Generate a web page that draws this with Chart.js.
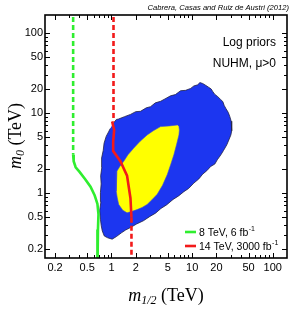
<!DOCTYPE html>
<html>
<head>
<meta charset="utf-8">
<script src="https://cdn.jsdelivr.net/npm/chart.js@4.4.0/dist/chart.umd.min.js"></script>
<style>
  html, body { margin: 0; padding: 0; background: #fff; }
  canvas { display: block; }
</style>
</head>
<body>
<canvas id="c" width="291" height="313"></canvas>
<script>
// m1/2 (TeV), m0 (TeV) pairs
const region95 = [
  [1.05, 7.4], [1.15, 8.3], [1.22, 8.4], [1.45, 9.0], [1.72, 9.6], [2.0, 10.4], [2.29, 10.5], [2.7, 11.6],
  [3.05, 12.0], [3.5, 13.4], [4.06, 14.0], [4.6, 15.0], [5.4, 16.4], [6.2, 17.0], [7.2, 19.0],
  [8.3, 19.2], [9.6, 20.3], [10.5, 21.8], [11.7, 22.5], [12.5, 24.0], [13.5, 23.4], [14.7, 22.2], [16.0, 21.0],
  [17.2, 20.0], [18.0, 18.6], [19.0, 17.2], [20.8, 16.0], [22.5, 14.8], [24.0, 13.9], [25.0, 12.4], [26.2, 11.4],
  [28.0, 10.2], [29.3, 9.05], [30.5, 7.9], [31.1, 6.8], [30.8, 6.0], [30.2, 5.3], [28.5, 4.6],
  [26.9, 4.0], [24.5, 3.4], [22.7, 3.0], [20.5, 2.6], [19.1, 2.3], [17.0, 2.15], [15.2, 1.9],
  [13.5, 1.72], [12.1, 1.5], [10.5, 1.33], [9.05, 1.14], [7.9, 1.04], [6.8, 0.92], [5.8, 0.83],
  [4.82, 0.71], [4.1, 0.64], [3.52, 0.56], [3.0, 0.51], [2.49, 0.45], [2.05, 0.41], [1.72, 0.37],
  [1.5, 0.345], [1.33, 0.318], [1.15, 0.285], [1.02, 0.265], [0.9, 0.275], [0.815, 0.29],
  [0.77, 0.335], [0.747, 0.39], [0.73, 0.47], [0.715, 0.6], [0.74, 0.78], [0.73, 1.01],
  [0.745, 1.3], [0.735, 1.64], [0.76, 2.1], [0.755, 2.74], [0.79, 3.4], [0.81, 4.2],
  [0.86, 5.1], [0.92, 5.8], [0.966, 6.4]
];
const region68 = [
  [6.55, 7.07], [5.2, 6.9], [4.06, 6.76], [3.3, 6.0], [2.77, 5.32], [2.25, 4.4], [1.89, 3.64],
  [1.6, 3.0], [1.42, 2.49], [1.27, 2.15], [1.17, 1.88], [1.14, 1.45], [1.15, 1.06], [1.18, 0.87],
  [1.23, 0.72], [1.38, 0.61], [1.56, 0.565], [1.8, 0.59], [2.08, 0.62], [2.4, 0.66], [2.77, 0.72],
  [3.2, 0.83], [3.69, 0.964], [4.3, 1.25], [4.92, 1.7], [5.45, 2.3], [5.94, 3.01], [6.4, 4.0],
  [6.86, 5.32], [6.95, 6.1], [6.86, 6.76]
];
const lhc8Dashed = [[0.335, 200], [0.335, 3.0]];
const lhc8Solid = [
  [0.335, 3.0], [0.34, 2.5], [0.36, 2.1], [0.40, 1.85], [0.47, 1.5], [0.55, 1.2], [0.62, 0.93],
  [0.67, 0.73], [0.69, 0.54], [0.68, 0.35], [0.67, 0.1]
];
const lhc14DashedTop = [[1.06, 200], [1.06, 7.85]];
const lhc14Solid = [
  [1.02, 7.85], [1.08, 6.1], [1.05, 4.4], [1.05, 3.34], [1.29, 2.5], [1.56, 1.65], [1.72, 0.86],
  [1.77, 0.49]
];
const lhc14DashedBottom = [[1.77, 0.49], [1.77, 0.1]];

const tickLabels = [0.2, 0.5, 1, 2, 5, 10, 20, 50, 100];
const tickMarks = [0.2, 0.3, 0.4, 0.5, 0.6, 0.7, 0.8, 0.9, 1, 2, 3, 4, 5, 6, 7, 8, 9,
  10, 20, 30, 40, 50, 60, 70, 80, 90, 100];
const legendItems = [
  { text: '8 TeV, 6 fb', color: '#2fee2f' },
  { text: '14 TeV, 3000 fb', color: '#f21a1a' }
];

const pts = arr => arr.map(([x, y]) => ({ x, y }));
const lineSet = (arr, color, dash, order) => ({
  data: pts(arr), showLine: true, fill: false, borderColor: color, borderWidth: 2.6,
  borderDash: dash, pointRadius: 0, tension: 0, order
});

const frame = {
  id: 'frame',
  afterDraw(chart) {
    const { ctx, chartArea: a, scales: { x, y } } = chart;
    ctx.save();
    ctx.strokeStyle = '#000';
    const seg = (x1, y1, x2, y2) => { ctx.beginPath(); ctx.moveTo(x1, y1); ctx.lineTo(x2, y2); ctx.stroke(); };
    ctx.lineWidth = 1;
    tickMarks.forEach(v => {
      const len = tickLabels.includes(v) ? 5 : 3;
      const px = Math.round(x.getPixelForValue(v)) + 0.5;
      seg(px, a.bottom, px, a.bottom - len);
      seg(px, a.top, px, a.top + len);
      const py = Math.round(y.getPixelForValue(v)) + 0.5;
      seg(a.left, py, a.left + len, py);
      seg(a.right, py, a.right - len, py);
    });
    ctx.lineWidth = 1.6;
    ctx.strokeRect(a.left, a.top, a.right - a.left, a.bottom - a.top);

    // citation
    ctx.fillStyle = '#000';
    ctx.textBaseline = 'alphabetic';
    ctx.textAlign = 'right';
    ctx.font = 'italic 7.6px "Liberation Sans"';
    ctx.fillText('Cabrera, Casas and Ruiz de Austri (2012)', 289, 10);

    ctx.font = '12px "Liberation Sans"';
    ctx.fillText('Log priors', 276, 46);
    ctx.fillText('NUHM, \u03bc>0', 276, 67);

    // legend
    ctx.textAlign = 'left';
    legendItems.forEach((it, i) => {
      const ly = 232 + i * 14;
      ctx.strokeStyle = it.color; ctx.lineWidth = 2.6;
      seg(185, ly, 196, ly);
      ctx.font = '10.5px "Liberation Sans"';
      ctx.fillText(it.text, 199, ly + 3.5);
      const w = ctx.measureText(it.text).width;
      ctx.font = '7px "Liberation Sans"';
      ctx.fillText('-1', 199 + w + 0.5, ly - 1);
    });

    // axis titles
    const title = (cx, cy, sub, rot) => {
      ctx.save();
      ctx.translate(cx, cy); ctx.rotate(rot);
      const f1 = 'italic 18px "Liberation Serif"', f2 = 'italic 12px "Liberation Serif"', f3 = '18px "Liberation Serif"';
      ctx.font = f1; const w1 = ctx.measureText('m').width;
      ctx.font = f2; const w2 = ctx.measureText(sub).width;
      ctx.font = f3; const w3 = ctx.measureText(' (TeV)').width;
      let x0 = -(w1 + w2 + w3) / 2;
      ctx.textAlign = 'left';
      ctx.font = f1; ctx.fillText('m', x0, 6);
      ctx.font = f2; ctx.fillText(sub, x0 + w1, 9);
      ctx.font = f3; ctx.fillText(' (TeV)', x0 + w1 + w2, 6);
      ctx.restore();
    };
    title(166, 295, '1/2', 0);
    title(15, 136, '0', -Math.PI / 2);
    ctx.restore();
  }
};

const fmt = v => String(v);
const axis = (min, max, extra) => Object.assign({
  type: 'logarithmic', min, max,
  afterBuildTicks: s => { s.ticks = tickMarks.map(v => ({ value: v })); },
  grid: { display: false, drawTicks: false },
  border: { display: false }
}, extra);
const tickOpts = pad => ({
  autoSkip: false, maxRotation: 0, color: '#000', padding: pad,
  font: { family: 'Liberation Sans', size: 11 },
  callback: v => tickLabels.includes(v) ? fmt(v) : ''
});

new Chart(document.getElementById('c'), {
  type: 'scatter',
  data: {
    datasets: [
      lineSet(lhc14DashedTop, '#f21a1a', [5, 3], 1),
      lineSet(lhc14Solid, '#f21a1a', [], 1),
      lineSet(lhc14DashedBottom, '#f21a1a', [5, 3], 1),
      lineSet(lhc8Dashed, '#2fee2f', [5, 3], 1),
      lineSet(lhc8Solid, '#2fee2f', [], 1),
      { data: pts(region68), showLine: true, fill: 'shape', backgroundColor: '#ffff00',
        borderColor: '#4050d0', borderWidth: 0.6, pointRadius: 0, tension: 0, order: 3 },
      { data: pts(region95), showLine: true, fill: 'shape', backgroundColor: '#1c36f0',
        borderColor: '#222244', borderWidth: 0.8, pointRadius: 0, tension: 0, order: 4 }
    ]
  },
  options: {
    responsive: false, animation: false, devicePixelRatio: 1,
    layout: { padding: { top: 15, right: 4, left: 0, bottom: 0 } },
    plugins: { legend: { display: false }, tooltip: { enabled: false } },
    scales: {
      x: axis(0.15, 150, { ticks: tickOpts(3), afterFit: s => { s.height = 55; } }),
      y: axis(0.154, 168, { ticks: tickOpts(2), afterFit: s => { s.width = 45; } })
    }
  },
  plugins: [frame]
});
</script>
</body>
</html>
